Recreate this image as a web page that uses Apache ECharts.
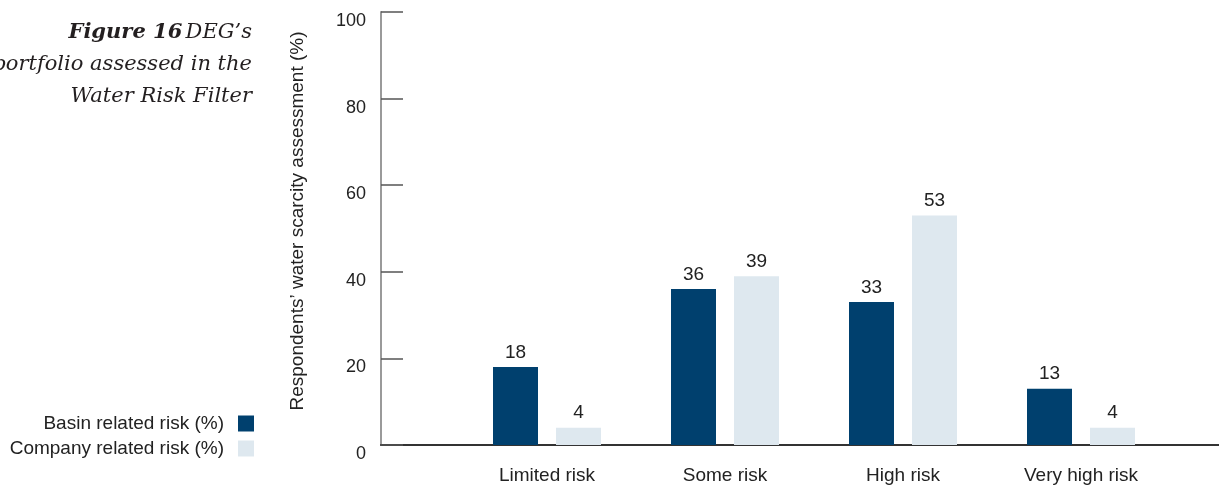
<!DOCTYPE html>
<html>
<head>
<meta charset="utf-8">
<script src="https://cdn.jsdelivr.net/npm/echarts@6/dist/echarts.min.js"></script>
<style>
  html, body { margin: 0; padding: 0; background: #fff; }
  #chart { width: 1219px; height: 486px; }
</style>
</head>
<body>
<div id="chart"></div>
<script>
const categories = ['Limited risk', 'Some risk', 'High risk', 'Very high risk'];
const seriesNames = ['Basin related risk (%)', 'Company related risk (%)'];
const basinRisk = [18, 36, 33, 13];
const companyRisk = [4, 39, 53, 4];
const yTicks = [0, 20, 40, 60, 80, 100];
const titleLines = ['Figure 16', 'DEG\u2019s', 'portfolio assessed in the', 'Water Risk Filter'];
const yAxisTitle = 'Respondents\u2019 water scarcity assessment (%)';

const DARK = '#00406e';
const LIGHT = '#dee8ef';
const TEXT = '#222222';
const FONT = '"Liberation Sans", Arial, sans-serif';
const SERIF = '"DejaVu Serif", "Liberation Serif", serif';

const chart = echarts.init(document.getElementById('chart'), null, { renderer: 'canvas' });

const plotTop = 12;
const plotBottom = 41;

chart.setOption({
  animation: false,
  backgroundColor: '#ffffff',
  textStyle: { fontFamily: FONT, color: TEXT },
  grid: [
    // frame grid: carries the value axis and the full-width baseline
    { left: 381, right: 0, top: plotTop, bottom: plotBottom, containLabel: false },
    // bar grid: category bands
    { left: 458, width: 712, top: plotTop, bottom: plotBottom, containLabel: false }
  ],
  legend: {
    orient: 'vertical',
    right: 965,
    top: 414,
    padding: 0,
    align: 'right',
    itemWidth: 16,
    itemHeight: 16,
    itemGap: 6,
    icon: 'rect',
    data: seriesNames,
    textStyle: { fontFamily: FONT, fontSize: 19, color: TEXT, padding: [0, 9, 0, 0] },
    selectedMode: false
  },
  xAxis: [
    {
      gridIndex: 0, type: 'value', min: 0, max: 1,
      axisLine: { show: true, onZero: false, lineStyle: { color: '#333333', width: 2 } },
      axisTick: { show: false }, axisLabel: { show: false }, splitLine: { show: false }
    },
    {
      gridIndex: 1, type: 'category', data: categories,
      axisLine: { show: false }, axisTick: { show: false },
      axisLabel: { fontFamily: FONT, fontSize: 19, color: TEXT, margin: 21 }
    }
  ],
  yAxis: [
    {
      gridIndex: 0, type: 'value', min: yTicks[0], max: yTicks[yTicks.length - 1], interval: 20,
      axisLine: { show: true, lineStyle: { color: '#9a9a9a', width: 2 } },
      axisTick: { show: true, inside: true, length: 22, lineStyle: { color: '#555555', width: 1.5 } },
      axisLabel: { fontFamily: FONT, fontSize: 18, color: TEXT, margin: 15, verticalAlign: 'top', padding: [0, 0, 0, 0] },
      splitLine: { show: false }
    },
    {
      gridIndex: 1, type: 'value', min: yTicks[0], max: yTicks[yTicks.length - 1], interval: 20,
      show: false
    }
  ],
  series: [
    {
      name: seriesNames[0], type: 'bar', xAxisIndex: 1, yAxisIndex: 1,
      data: basinRisk, barWidth: 45, barGap: '40%',
      itemStyle: { color: DARK },
      label: { show: true, position: 'top', distance: 5, fontFamily: FONT, fontSize: 19, color: TEXT }
    },
    {
      name: seriesNames[1], type: 'bar', xAxisIndex: 1, yAxisIndex: 1,
      data: companyRisk, barWidth: 45, barGap: '40%',
      itemStyle: { color: LIGHT },
      label: { show: true, position: 'top', distance: 5, fontFamily: FONT, fontSize: 19, color: TEXT }
    }
  ],
  graphic: [
    {
      type: 'text', x: 252, y: 33,
      style: {
        text: '{b|' + titleLines[0] + '} {i|' + titleLines[1] + '}',
        align: 'right', verticalAlign: 'middle',
        rich: {
          b: { fontFamily: SERIF, fontStyle: 'italic', fontWeight: 'bold', fontSize: 21, fill: '#231f20' },
          i: { fontFamily: SERIF, fontStyle: 'italic', fontSize: 21, fill: '#231f20' }
        }
      }
    },
    {
      type: 'text', x: 252, y: 65,
      style: {
        text: titleLines[2], align: 'right', verticalAlign: 'middle',
        fontFamily: SERIF, fontStyle: 'italic', fontSize: 21, fill: '#231f20'
      }
    },
    {
      type: 'text', x: 252, y: 97,
      style: {
        text: titleLines[3], align: 'right', verticalAlign: 'middle',
        fontFamily: SERIF, fontStyle: 'italic', fontSize: 21, fill: '#231f20'
      }
    },
    {
      type: 'text', x: 298, y: 221, rotation: Math.PI / 2,
      style: {
        text: yAxisTitle, align: 'center', verticalAlign: 'middle',
        fontFamily: FONT, fontSize: 19, fill: TEXT
      }
    }
  ]
});
</script>
</body>
</html>
